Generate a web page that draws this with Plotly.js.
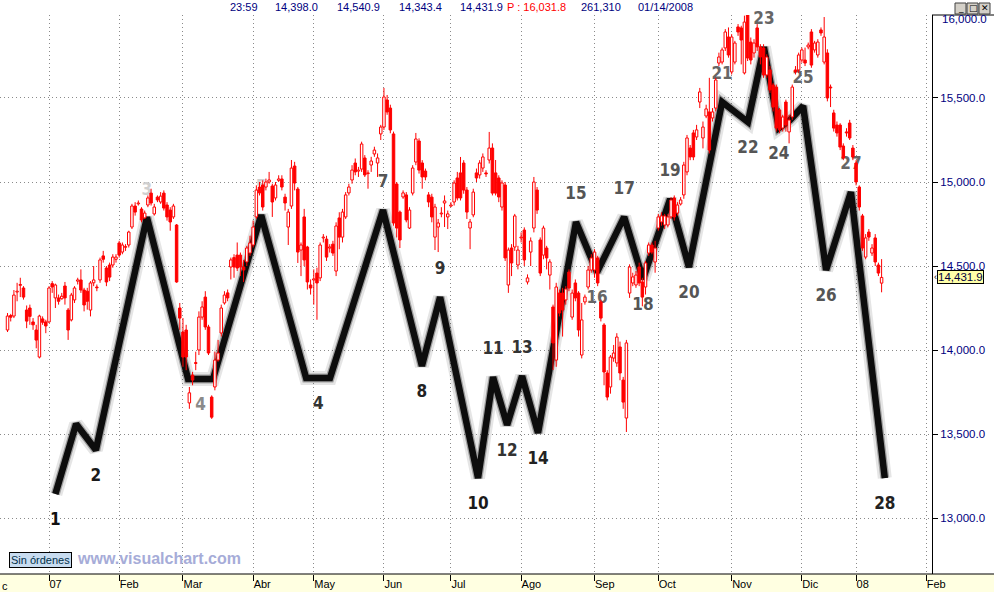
<!DOCTYPE html>
<html><head><meta charset="utf-8">
<script src="https://cdn.plot.ly/plotly-3.0.1.min.js"></script>
<style>html,body{margin:0;padding:0;background:#fff;overflow:hidden}#chart{width:994px;height:592px}</style>
</head><body><div id="chart"></div>
<script>
// ---------------- DATA ----------------
const firstDayIndex = -13; // trading-day index of first candle (0 = 2 Jan 2007)
const openPrices = [
14119,14205,14202,14345,14385,14369,14238,14250,14167,14119,
13958,14185,14167,14167,14395,14310,14310,14305,14381,14238,
14179,14298,14410,14417,14357,14350,14238,14400,14375,14417,
14560,14488,14506,14506,14540,14637,14583,14615,14625,14732,
14857,14870,14839,14786,14863,14934,14810,14910,14881,14934,
14863,14833,14792,14744,14250,14107,14119,13685,13851,13925,
14000,14196,14315,14137,13720,13780,13940,14101,14280,14340,
14494,14550,14565,
14565,14494,14524,14577,14625,14792,14970,14982,14970,15000,
14976,14905,15010,15018,14910,14732,14857,15095,14958,14595,
14792,14613,14387,14417,14458,14429,14667,14660,14607,14630,
14470,14786,14672,14792,14935,15012,15113,15065,15077,15143,
15050,15101,15167,15113,15286,15327,15488,15440,15286,14988,
14821,14911,14923,14726,14934,15119,15244,15113,15065,14923,
14910,14672,14732,14810,14875,14792,14857,14881,15024,15054,
15113,14952,14726,
14804,15054,15042,15083,15054,15131,15202,15054,15024,14851,
14982,14387,14607,14613,14506,14667,14714,14405,14583,14726,
14952,14655,14565,14607,14446,14256,13940,14339,14339,14298,
14464,14196,14399,14339,13970,14286,14375,14476,14476,14548,
14286,14149,13863,13780,13952,13923,14018,13821,13595,14339,
14399,14387,14494,14405,14375,14577,14625,14524,14726,14762,
14744,14744,14792,14905,14815,14869,14923,15060,15202,15292,
15268,
15476,15262,15393,15417,15381,15440,15708,15714,15798,15863,
15655,15714,15923,15917,15649,15994,15833,15768,15917,15804,
15798,15637,15667,15577,15565,15429,15321,15476,15298,15387,
15667,15667,15726,15726,15804,15893,15786,15756,15905,15714,
15768,15565,15411,15339,15339,15214,15298,15351,15202,15113,
14970,14798,14553,14702,14577,14667,14506,14398.0];
const highPrices = [
14220,14215,14357,14400,14430,14380,14265,14270,14190,14150,
14210,14200,14180,14380,14410,14395,14330,14340,14405,14250,
14340,14380,14430,14480,14370,14370,14410,14500,14390,14550,
14590,14500,14520,14570,14570,14650,14640,14630,14710,14870,
14880,14890,14850,14830,14920,14960,14870,14920,14940,14950,
14880,14850,14870,14750,14280,14190,14150,13780,13870,13990,
14230,14290,14350,14150,13730,13990,14060,14270,14350,14360,
14550,14570,14640,
14580,14536,14620,14680,14770,14980,15000,15010,15020,15060,
14990,15000,15040,15040,14930,14840,15131,15120,14970,14640,
14840,14620,14420,14480,14490,14640,14690,14680,14630,14650,
14760,14820,14840,14940,14990,15100,15140,15090,15240,15160,
15070,15150,15210,15170,15340,15560,15518,15460,15300,15000,
14830,14950,14940,14850,15100,15292,15260,15130,15080,14940,
14930,14870,14780,14850,14920,14830,14880,15010,15060,15149,
15130,14970,14780,
14960,15080,15130,15170,15070,15298,15230,15131,15040,15010,
15000,14610,14630,14810,14620,14700,14730,14450,14670,15030,
14970,14670,14740,14620,14540,14270,14400,14360,14370,14380,
14480,14360,14420,14350,14280,14330,14500,14570,14600,14560,
14300,14160,13880,13970,14030,14100,14050,13840,14060,14510,
14460,14470,14520,14430,14530,14640,14640,14650,14810,14820,
14810,14810,14910,14920,14880,14910,15120,15280,15220,15310,
15340,
15560,15360,15460,15620,15440,15620,15770,15800,15910,15920,
15880,15840,15940,15930,15990,16000,15860,15850,15940,15820,
15820,15760,15690,15590,15580,15440,15400,15490,15400,15580,
15690,15770,15800,15800,15830,15910,15840,15850,15920,15982,
15790,15580,15430,15360,15350,15230,15320,15370,15220,15130,
14980,14810,14690,14720,14630,14690,14520,14540.9];
const lowPrices = [
14107,14170,14190,14290,14315,14300,14130,14150,14120,14010,
13950,14150,14100,14160,14340,14250,14270,14300,14270,14060,
14170,14280,14390,14340,14230,14240,14200,14380,14350,14400,
14520,14380,14410,14490,14520,14550,14570,14590,14610,14720,
14800,14860,14760,14780,14850,14860,14800,14880,14870,14830,
14770,14710,14780,14400,14120,13900,13880,13650,13790,13880,
13970,14180,14120,13970,13590,13760,13930,14080,14270,14290,
14420,14430,14470,
14440,14405,14500,14560,14610,14780,14920,14830,14950,14990,
14792,14890,15000,14950,14830,14625,14840,14950,14518,14440,
14500,14360,14330,14270,14180,14410,14640,14530,14580,14560,
14440,14600,14640,14780,14920,14990,15040,15030,15060,15030,
14960,15060,15150,15030,15250,15310,15400,15290,14740,14670,
14607,14900,14760,14720,14920,15100,15050,14960,15010,14850,
14760,14595,14583,14790,14732,14720,14850,14860,14890,14890,
14930,14780,14600,
14790,15000,15020,15060,15030,15110,14920,14920,14880,14830,
14530,14340,14440,14590,14480,14640,14500,14390,14500,14700,
14810,14440,14540,14480,14360,13881,13900,14200,14080,14270,
14350,14180,14290,14080,13950,14270,14360,14460,14430,14380,
14170,13790,13700,13740,13930,13900,13820,13650,13512,14310,
14380,14370,14380,14260,14330,14560,14570,14460,14710,14740,
14720,14730,14780,14770,14800,14860,14900,15040,15130,15130,
15250,
15440,15200,15380,15170,15360,15420,15690,15700,15780,15740,
15640,15700,15870,15700,15640,15720,15700,15740,15780,15700,
15620,15620,15530,15420,15300,15290,15300,15300,15230,15370,
15640,15650,15710,15690,15790,15680,15770,15740,15870,15700,
15480,15446,15300,15270,15190,15130,15270,15250,15130,14980,
14830,14590,14540,14650,14560,14500,14440,14343.4];
const closePrices = [
14202,14195,14327,14350,14390,14315,14172,14200,14150,14059,
14202,14165,14143,14369,14375,14387,14290,14320,14310,14119,
14327,14369,14417,14357,14268,14290,14399,14417,14370,14536,
14540,14405,14434,14553,14553,14565,14625,14612,14702,14857,
14821,14875,14774,14815,14905,14875,14851,14893,14916,14845,
14792,14762,14857,14405,14190,13958,13958,13745,13821,13920,
14196,14256,14137,13982,13600,13940,13982,14250,14327,14310,
14536,14494,14488,
14494,14476,14607,14637,14732,14952,14935,14851,15000,15012,
14881,14982,15018,14970,14875,14821,15083,14994,14583,14625,
14536,14405,14369,14423,14399,14625,14672,14553,14613,14577,
14738,14672,14821,14923,14970,15071,15060,15071,15226,15042,
15054,15125,15190,15143,15327,15506,15417,15310,14756,14726,
14655,14935,14774,14833,15083,15256,15071,15030,15030,14881,
14792,14851,14756,14815,14887,14810,14863,14994,14905,14905,
14952,14821,14762,
14940,15024,15113,15149,15048,15202,14934,14934,14911,14994,
14548,14595,14518,14798,14595,14672,14536,14429,14649,15000,
14833,14458,14726,14548,14524,14042,14375,14220,14238,14363,
14369,14339,14310,14119,14179,14315,14476,14548,14583,14399,
14190,13869,13720,13958,13982,14077,13863,13690,14042,14494,
14435,14446,14399,14315,14518,14625,14583,14607,14792,14798,
14798,14792,14893,14792,14863,14893,15101,15262,15149,15149,
15310,
15536,15327,15435,15190,15417,15607,15744,15786,15893,15756,
15863,15827,15893,15845,15952,15738,15726,15827,15804,15744,
15637,15744,15548,15446,15321,15310,15387,15339,15369,15565,
15655,15756,15786,15708,15815,15696,15827,15833,15887,15863,
15500,15560,15321,15292,15208,15143,15292,15262,15149,15000,
14851,14607,14667,14672,14607,14524,14458,14431.9];

const monthTickIdx  = [0,22,42,64,83,105,126,148,171,191,214,236,253,275];
const monthTickText = ['07','Feb','Mar','Abr','May','Jun','Jul','Ago','Sep','Oct','Nov','Dic','08','Feb'];

// wave line (trading-day index, price)
const waveIdx   = [2,8.5,14.7,30.7,43.6,51.4,66.5,80.6,88.1,104.7,116.9,122.6,134.5,139.2,143.6,148.3,153.3,165.2,171.8,180.3,186.2,194.7,200.6,211,219.1,224.1,228.8,232.3,236.4,243.6,251.4,262];
const wavePrice = [13143,13560,13405,14790,13827,13827,14803,13833,13833,14833,13905,14315,13238,13839,13554,13845,13506,14762,14464,14792,14423,14899,14494,15476,15357,15803,15321,15369,15452,14476,14940,13238];

// wave count labels: text, and the wave point each one marks
const waveLabelText  = ['1','2','3','4','5','4','7','8','9','10','11','12','13','14','15','16','17','18','19','20','21','22','23','24','25','26','27','28'];
const waveLabelIdx   = [2,14.7,30.7,47.5,66.5,84.4,104.7,116.9,122.6,134.5,139.2,143.6,148.3,153.3,165.2,171.8,180.3,186.2,194.7,200.6,211,219.1,224.1,228.8,236.4,243.6,251.4,262];
const waveLabelPrice = [13143,13405,14790,13827,14803,13833,14833,13905,14315,13238,13839,13554,13845,13506,14762,14464,14792,14423,14899,14494,15476,15357,15803,15321,15452,14476,14940,13238];
const waveLabelAbove = [false,false,true,false,true,false,true,false,true,false,true,false,true,false,true,false,true,false,true,false,true,false,true,false,true,false,true,false];

const headerText = ['23:59','14,398.0','14,540.9','14,343.4','14,431.9','P : 16,031.8','261,310','01/14/2008'];
const lastPrice = 14431.9;
const lastPriceText = '14,431.9';

// ---------------- STYLE / LAYOUT ----------------
const W = 994, H = 592, PL = 0, PR = 932, PT = 15, PB = 574;
const plotW = PR - PL, plotH = PB - PT;
const xRange = [-15.36, 276.8];
const yRange = [12666.7, 15994];
const pxToPaperX = px => (px - PL) / plotW;
const pxToPaperY = py => (PB - py) / plotH;
const pricePerPx = (yRange[1] - yRange[0]) / plotH;

const dayIdx = openPrices.map((_, k) => firstDayIndex + k);

// candle bodies (bars) and wicks (split so they do not cross hollow bodies)
const upX = [], upBase = [], upLen = [], dnX = [], dnBase = [], dnLen = [];
const wickX = [], wickY = [];
dayIdx.forEach((d, k) => {
  const o = openPrices[k], c = closePrices[k], h = highPrices[k], l = lowPrices[k];
  const top = Math.max(o, c), bot = Math.min(o, c);
  if (c >= o) { upX.push(d); upBase.push(bot); upLen.push(top - bot); }
  else { dnX.push(d); dnBase.push(bot); dnLen.push(top - bot); }
  wickX.push(d, d, null, d, d, null);
  wickY.push(h, top, null, bot, l, null);
});

const labelShade = {'1':'#111','2':'#1a1a1a','3':'#d0d0d0','5':'#d0d0d0','7':'#555',
 '8':'#222','9':'#333','10':'#1a1a1a','11':'#333','12':'#333','13':'#333','14':'#222','15':'#555','16':'#666',
 '17':'#555','18':'#555','19':'#555','20':'#555','21':'#666','22':'#555','23':'#666','24':'#555','25':'#666',
 '26':'#555','27':'#666','28':'#222'};
const labelColors = waveLabelText.map((t, k) => k === 3 ? '#8a8a8a' : (k === 5 ? '#333' : labelShade[t]));
const labelOffsetPx = 27;
const labelY = waveLabelPrice.map((p, k) => p + (waveLabelAbove[k] ? 1 : -1) * labelOffsetPx * pricePerPx);

const RED = '#ff0000';
const traces = [
  {type:'scatter', mode:'lines', x:waveIdx, y:wavePrice, xaxis:'x', yaxis:'y',
   line:{color:'rgba(0,0,0,0.10)', width:14}, hoverinfo:'skip', showlegend:false},
  {type:'scatter', mode:'lines', x:waveIdx, y:wavePrice, xaxis:'x', yaxis:'y',
   line:{color:'rgba(0,0,0,0.30)', width:9}, hoverinfo:'skip', showlegend:false},
  {type:'scatter', mode:'lines', x:waveIdx, y:wavePrice, xaxis:'x', yaxis:'y',
   line:{color:'#0d0d0d', width:6.5}, hoverinfo:'skip', showlegend:false},
  {type:'scatter', mode:'text', x:waveLabelIdx, y:labelY, text:waveLabelText, xaxis:'x', yaxis:'y',
   textposition:'middle center', cliponaxis:false,
   textfont:{family:'"Liberation Sans Narrow","DejaVu Sans Condensed","Arial Narrow",sans-serif', size:17, weight:'bold',
     color:labelColors}, hoverinfo:'skip', showlegend:false},
  {type:'bar', x:upX, base:upBase, y:upLen, width:0.78, xaxis:'x2', yaxis:'y2',
   marker:{color:'#ffffff', line:{color:RED, width:1}}, hoverinfo:'skip', showlegend:false},
  {type:'bar', x:dnX, base:dnBase, y:dnLen, width:0.78, xaxis:'x2', yaxis:'y2',
   marker:{color:RED, line:{color:RED, width:1}}, hoverinfo:'skip', showlegend:false},
  {type:'scatter', mode:'lines', x:wickX, y:wickY, xaxis:'x2', yaxis:'y2', connectgaps:false,
   line:{color:RED, width:1}, hoverinfo:'skip', showlegend:false}
];

const annFont = {family:'"Liberation Sans",Arial,sans-serif', size:11, color:'#000080'};
const headerX = [228,273,335,397,458,505,579,636];
const annotations = headerText.map((t, k) => ({
  xref:'paper', yref:'paper', x:pxToPaperX(headerX[k]), y:pxToPaperY(7), xanchor:'left', yanchor:'middle',
  text:t, showarrow:false, font:Object.assign({}, annFont, {color: t.startsWith('P') ? '#ff0000' : '#000080'})
}));
annotations.push({xref:'paper', yref:'y', x:pxToPaperX(937), y:lastPrice, xanchor:'left', yanchor:'middle',
  text:lastPriceText, showarrow:false, bgcolor:'#ffffa8', bordercolor:'#000', borderwidth:1, borderpad:0,
  font:{family:'"Liberation Sans",Arial,sans-serif', size:11.5, color:'#000040'}});
annotations.push({xref:'paper', yref:'y', x:pxToPaperX(932.5), y:lastPrice, xanchor:'left', yanchor:'middle',
  text:'‹', showarrow:false, font:{family:'"Liberation Sans",Arial,sans-serif', size:9, color:'#000'}});
annotations.push({xref:'paper', yref:'paper', x:pxToPaperX(9), y:pxToPaperY(560), xanchor:'left', yanchor:'middle',
  text:'Sin órdenes', showarrow:false, bgcolor:'#c8dcf0', bordercolor:'#000', borderwidth:1, borderpad:1,
  font:{family:'"Liberation Sans",Arial,sans-serif', size:11, color:'#00304a'}});
annotations.push({xref:'paper', yref:'paper', x:pxToPaperX(75), y:pxToPaperY(558), xanchor:'left', yanchor:'middle',
  text:'<b>www.visualchart.com</b>', showarrow:false,
  font:{family:'"Liberation Sans",Arial,sans-serif', size:16, color:'#a6acd8'}});
annotations.push({xref:'paper', yref:'paper', x:0, y:pxToPaperY(586), xanchor:'left', yanchor:'middle',
  text:'c', showarrow:false, font:{family:'"Liberation Sans",Arial,sans-serif', size:11, color:'#000'}});
// partially hidden top tick label
annotations.push({xref:'paper', yref:'paper', x:pxToPaperX(940), y:pxToPaperY(19), xanchor:'left', yanchor:'middle',
  text:'16,000.0', showarrow:false, font:{family:'"Liberation Sans",Arial,sans-serif', size:11.5, color:'#000080'}});
// window buttons
const btnX = [955, 967, 979], btnSym = ['_', '□', '✕'];
btnSym.forEach((s, k) => annotations.push({xref:'paper', yref:'paper', x:pxToPaperX(btnX[k] + 6), y:pxToPaperY(8),
  xanchor:'center', yanchor:'middle', text:s, showarrow:false,
  font:{family:'"DejaVu Sans",sans-serif', size:9, color:'#000'}}));

const shapes = [
  {type:'rect', xref:'paper', yref:'paper', x0:pxToPaperX(0), x1:pxToPaperX(W), y0:pxToPaperY(H), y1:pxToPaperY(PB),
   fillcolor:'#ffffe1', line:{width:0}, layer:'below'},
  {type:'line', xref:'paper', yref:'paper', x0:pxToPaperX(0), x1:pxToPaperX(W), y0:0, y1:0, line:{color:'#000', width:1}},
  {type:'line', xref:'paper', yref:'paper', x0:1, x1:pxToPaperX(W), y0:1, y1:1, line:{color:'#000', width:1}}
];
btnX.forEach(bx => shapes.push({type:'rect', xref:'paper', yref:'paper', x0:pxToPaperX(bx), x1:pxToPaperX(bx + 11),
  y0:pxToPaperY(14), y1:pxToPaperY(3), fillcolor:'#d4d0c8', line:{color:'#404040', width:1}}));

const layout = {
  width:W, height:H, margin:{l:PL, r:W - PR, t:PT, b:H - PB, pad:0},
  paper_bgcolor:'#ffffff', plot_bgcolor:'#ffffff', showlegend:false, dragmode:false, barmode:'overlay',
  xaxis:{range:xRange, tickmode:'array', tickvals:monthTickIdx, ticktext:monthTickText,
    ticks:'outside', ticklen:6, tickwidth:1, tickcolor:'#000', ticklabelposition:'outside right',
    tickfont:{family:'"Liberation Sans",Arial,sans-serif', size:11, color:'#000'},
    showgrid:true, gridcolor:'#8a8a8a', gridwidth:1, griddash:'1px,3px', zeroline:false, showline:false, fixedrange:true},
  yaxis:{range:yRange, side:'right', tick0:13000, dtick:500, tickformat:',.1f',
    ticks:'outside', ticklen:5, tickwidth:1, tickcolor:'#000',
    tickfont:{family:'"Liberation Sans",Arial,sans-serif', size:11.5, color:'#000080'},
    showgrid:true, gridcolor:'#8a8a8a', gridwidth:1, griddash:'1px,3px', zeroline:false,
    showline:true, linecolor:'#000', linewidth:1, fixedrange:true},
  xaxis2:{range:xRange, overlaying:'x', visible:false, fixedrange:true},
  yaxis2:{range:yRange, overlaying:'y', visible:false, fixedrange:true},
  annotations:annotations, shapes:shapes
};

Plotly.newPlot('chart', traces, layout, {staticPlot:true, displayModeBar:false});
</script>
</body></html>
